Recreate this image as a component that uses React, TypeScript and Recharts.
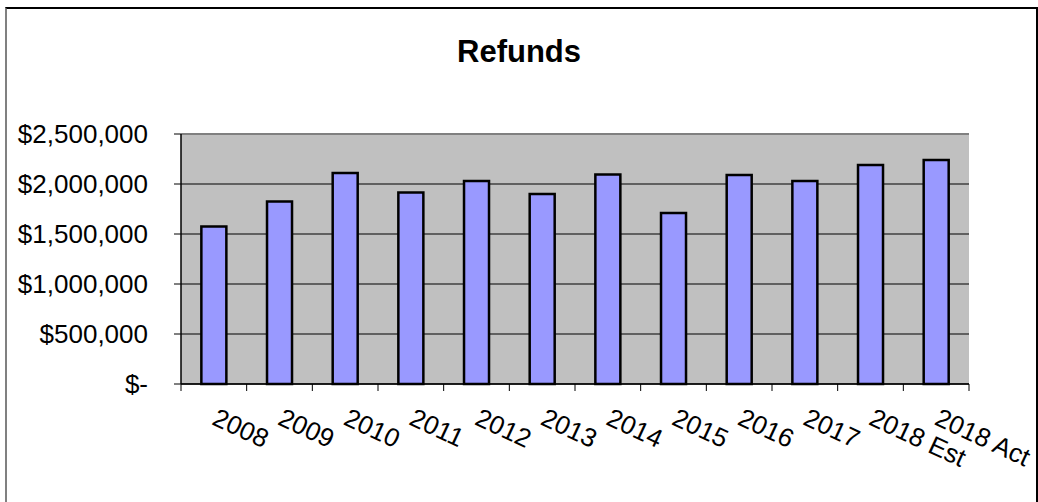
import React from 'react';
import { BarChart, Bar, XAxis, YAxis, CartesianGrid, ReferenceLine } from 'recharts';

const categories = ['2008', '2009', '2010', '2011', '2012', '2013', '2014', '2015', '2016', '2017', '2018 Est', '2018 Act'];
const refunds = [1575000, 1825000, 2110000, 1915000, 2030000, 1900000, 2095000, 1710000, 2090000, 2030000, 2190000, 2240000];
const yTicks = [0, 500000, 1000000, 1500000, 2000000, 2500000];

const data = categories.map((year, i) => ({ year, refunds: refunds[i] }));

const FONT = '"Liberation Sans", Arial, sans-serif';

const fmtMoney = (v: number) => (v === 0 ? '$-' : '$' + v.toLocaleString('en-US'));

// category labels rotated, tick marks sit on the band edges (Excel style)
const XTick = (props: any) => {
  const { x, y, payload, index, width } = props;
  const half = payload && payload.offset ? payload.offset : width / (2 * categories.length);
  const tx = x - 3;
  const ty = y + 40;
  return (
    <g>
      <line x1={x - half} x2={x - half} y1={y} y2={y + 7} stroke="#000" />
      {index === categories.length - 1 && (
        <line x1={x + half} x2={x + half} y1={y} y2={y + 7} stroke="#000" />
      )}
      <text
        x={tx}
        y={ty}
        transform={`rotate(25 ${tx} ${ty})`}
        fontSize={26}
        fontFamily={FONT}
        fill="#000"
        textAnchor="start"
      >
        {payload.value}
      </text>
    </g>
  );
};

export default function App() {
  return (
    <div style={{ position: 'absolute', left: 0, top: 0, width: 1038, height: 502, overflow: 'hidden', background: '#fff' }}>
      <div
        style={{
          position: 'absolute',
          left: 5,
          top: 7,
          width: 1029,
          height: 600,
          borderTop: '2px solid #000',
          borderLeft: '2px solid #808080',
          borderRight: '2px solid #000',
        }}
      />
      <div style={{ position: 'absolute', left: 0, top: 0 }}>
        <BarChart
          width={1038}
          height={502}
          data={data}
          margin={{ top: 134, right: 69, bottom: 0, left: 0 }}
          barCategoryGap="31%"
        >
          <CartesianGrid
            yAxisId="left"
            vertical={false}
            stroke="#000"
            fill="#C0C0C0"
            fillOpacity={1}
          />
          <XAxis
            dataKey="year"
            height={118}
            interval={0}
            tickSize={0}
            tickMargin={0}
            tickLine={false}
            axisLine={{ stroke: '#000', strokeWidth: 1.5 }}
            tick={<XTick />}
          />
          <YAxis
            yAxisId="left"
            width={181}
            domain={[0, 2500000]}
            ticks={yTicks}
            interval={0}
            tickSize={7}
            tickMargin={26}
            tickFormatter={fmtMoney}
            tickLine={{ stroke: '#000' }}
            axisLine={{ stroke: '#000', strokeWidth: 1.5 }}
            tick={{ fill: '#000', fontSize: 26, fontFamily: FONT }}
          />
          <YAxis
            yAxisId="right"
            orientation="right"
            width={0}
            domain={[0, 2500000]}
            tick={false}
            tickLine={false}
            axisLine={{ stroke: '#808080', strokeWidth: 2 }}
          />
          <ReferenceLine yAxisId="left" y={2500000} stroke="#808080" strokeWidth={2} />
          <Bar
            yAxisId="left"
            dataKey="refunds"
            fill="#9999FF"
            stroke="#000"
            strokeWidth={2.5}
            isAnimationActive={false}
          />
        </BarChart>
      </div>
      <svg width={1038} height={80} style={{ position: 'absolute', left: 0, top: 0 }}>
        <text x={519} y={62} textAnchor="middle" fontSize={31} fontWeight="bold" fontFamily={FONT} fill="#000">
          Refunds
        </text>
      </svg>
    </div>
  );
}
